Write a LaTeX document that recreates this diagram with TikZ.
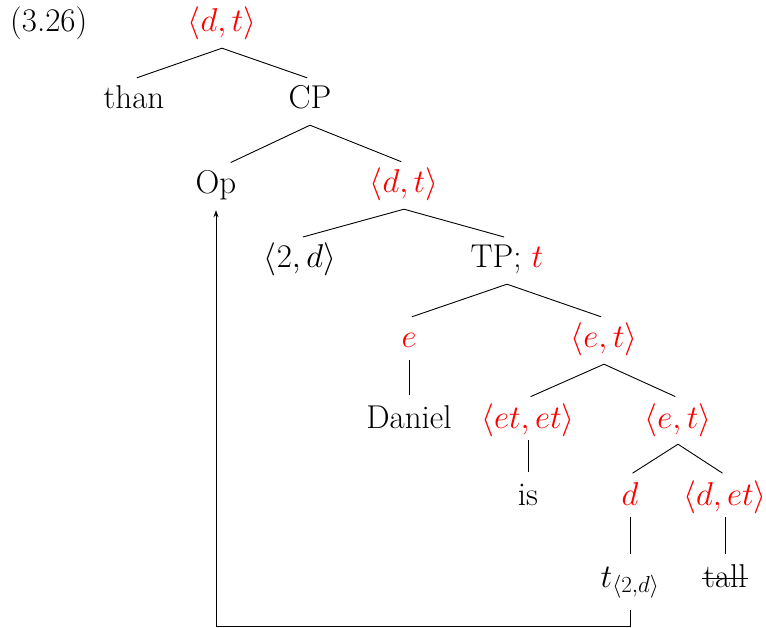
\RequirePackage{fix-cm}
\documentclass[tikz,border=0pt]{standalone}
\usetikzlibrary{arrows.meta}
\begin{document}
\fontsize{33}{40}\selectfont
\begin{tikzpicture}[x=1pt,y=-1pt,
  tn/.style={anchor=base, text height=22pt, text depth=8pt, inner ysep=8pt, inner xsep=1pt},
  ty/.style={tn, text=red},
  edge/.style={line width=0.9pt, shorten >=3pt},
  vedge/.style={line width=0.9pt, shorten >=3pt, shorten <=-4pt}]
\useasboundingbox (0,0) rectangle (766,628);
\node[anchor=base west, inner sep=0pt] (num) at (10,32) {(3.26)};
\node[ty] (n1) at (222,32) {$\langle d,t\rangle$};
\node[tn] (than) at (134,109) {than};
\node[tn] (cp) at (310,109) {CP};
\node[tn] (op) at (216,194) {Op};
\node[ty] (n2) at (404,193) {$\langle d,t\rangle$};
\node[tn] (n3) at (300,268) {$\langle 2,d\rangle$};
\node[tn] (tp) at (507,268) {TP; \textcolor{red}{$t$}};
\node[ty] (e) at (409,348) {$e$};
\node[ty] (n4) at (604,348) {$\langle e,t\rangle$};
\node[tn] (daniel) at (409,428) {Daniel};
\node[ty] (n5) at (528,428) {$\langle et,et\rangle$};
\node[ty] (n6) at (678,428) {$\langle e,t\rangle$};
\node[tn] (is) at (528,505) {is};
\node[ty] (d) at (630,505) {$d$};
\node[ty] (n7) at (725,505) {$\langle d,et\rangle$};
\node[tn] (trace) at (630,587) {$t_{\langle 2,d\rangle}$};
\node[tn] (tall) at (725,587) {tall};
\draw[line width=0.9pt] ([yshift=9pt]tall.base west) -- ([yshift=9pt]tall.base east);
\draw[edge] (n1.south) -- (than.north);
\draw[edge] (n1.south) -- (cp.north);
\draw[edge] (cp.south) -- ([xshift=12pt]op.north);
\draw[edge] (cp.south) -- (n2.north);
\draw[edge] (n2.south) -- (n3.north);
\draw[edge] (n2.south) -- (tp.north);
\draw[edge] (tp.south) -- (e.north);
\draw[edge] (tp.south) -- (n4.north);
\draw[vedge] (e.south) -- (daniel.north);
\draw[edge] (n4.south) -- (n5.north);
\draw[edge] (n4.south) -- (n6.north);
\draw[vedge] (n5.south) -- (is.north);
\draw[edge] (n6.south) -- (d.north);
\draw[edge] (n6.south) -- (n7.north);
\draw[vedge] (d.south) -- (trace.north);
\draw[vedge] (n7.south) -- (tall.north);
\coordinate (bot) at (0,626);
\draw[line width=0.9pt, -{Stealth[length=7pt,width=5pt]}] ([yshift=-7pt]trace.south) -- (trace.south |- bot) -| (op.south);
\end{tikzpicture}
\end{document}
